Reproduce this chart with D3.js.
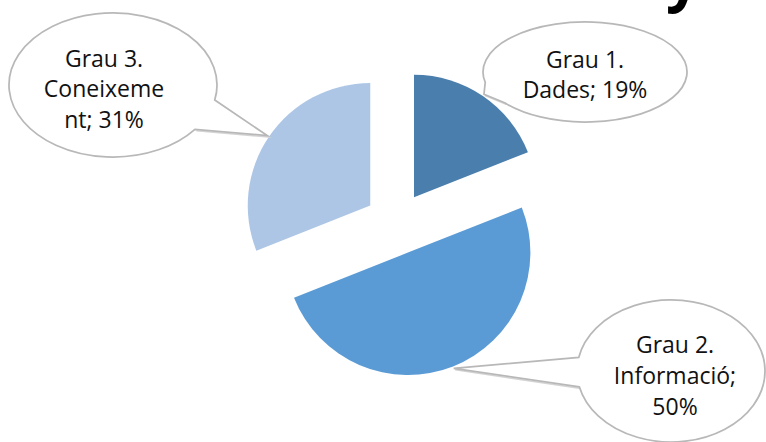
<!DOCTYPE html>
<html>
<head>
<meta charset="utf-8">
<script src="https://cdn.jsdelivr.net/npm/d3@7"></script>
<style>
  html, body { margin: 0; padding: 0; background: #fff; }
  svg { display: block; }
</style>
</head>
<body>
<div id="chart"></div>
<script>
// chart data
const categories = ["Grau 1. Dades", "Grau 2. Informació", "Grau 3. Coneixement"];
const values = [19, 50, 31];
// wrapped label text as shown in the callouts
const labelLines = [
  ["Grau 1.", "Dades; 19%"],
  ["Grau 2.", "Informació;", "50%"],
  ["Grau 3.", "Coneixeme", "nt; 31%"]
];
const colors = ["#4a7ead", "#5b9bd5", "#adc6e6"];

const width = 766;
const height = 442;
const cx = 396.3, cy = 223.3;
const radius = 122.5;
const explode = 31.5;

// callout bubbles (ellipse centre/radii, tail base angles in degrees, text position)
const callouts = [
  { ex: 585, ey: 72, rx: 102, ry: 50, t0: 142, t1: 168, tx: 585, ty: [68, 98] },
  { ex: 671, ey: 371, rx: 94, ry: 71, t0: 167, t1: 191, tx: 675, ty: [353, 384, 415] },
  { ex: 113, ey: 85, rx: 104, ry: 72, t0: 12, t1: 38, tx: 104, ty: [67, 97, 128] }
];

const svg = d3.select("#chart")
  .append("svg")
  .attr("width", width)
  .attr("height", height);

// title fragment: only the descender is inside the picture
svg.append("text")
  .attr("x", 666)
  .attr("y", -1)
  .attr("font-family", "Open Sans")
  .attr("font-weight", "bold")
  .attr("font-size", "60px")
  .attr("fill", "#000")
  .text("y");

const pie = d3.pie().sort(null).value(d => d);
const arcs = pie(values);
const arc = d3.arc().innerRadius(0).outerRadius(radius);
const mid = d => (d.startAngle + d.endAngle) / 2;
const polar = (a, k) => [Math.sin(a) * k, -Math.cos(a) * k];

svg.append("g")
  .selectAll("path")
  .data(arcs)
  .join("path")
  .attr("d", arc)
  .attr("fill", (d, i) => colors[i])
  .attr("transform", d => {
    const [ox, oy] = polar(mid(d), explode);
    return `translate(${cx + ox},${cy + oy})`;
  });

// callout tips sit on the outer arc at the middle of each slice
const tips = arcs.map(d => {
  const [ox, oy] = polar(mid(d), explode);
  const [px, py] = polar(mid(d), radius + 2);
  return [cx + ox + px, cy + oy + py];
});

const ePoint = (c, t) => {
  const a = t * Math.PI / 180;
  return [c.ex + c.rx * Math.cos(a), c.ey + c.ry * Math.sin(a)];
};

const cg = svg.append("g");
callouts.forEach((c, i) => {
  const p0 = ePoint(c, c.t0);
  const p1 = ePoint(c, c.t1);
  const tip = tips[i];

  // faint doubled line on the tail
  cg.append("path")
    .attr("d", `M${p0[0] + 1.5},${p0[1] + 1.5}L${tip[0] + 1.5},${tip[1] + 1.5}L${p1[0] + 1.5},${p1[1] + 1.5}`)
    .attr("fill", "none")
    .attr("stroke", "#d4d4d4")
    .attr("stroke-width", 1.5);

  cg.append("path")
    .attr("d", `M${p0[0]},${p0[1]}L${tip[0]},${tip[1]}L${p1[0]},${p1[1]}` +
      `A${c.rx},${c.ry} 0 1 1 ${p0[0]},${p0[1]}Z`)
    .attr("fill", "#fff")
    .attr("stroke", "#b8b8b8")
    .attr("stroke-width", 1.75)
    .attr("stroke-linejoin", "miter");

  cg.append("text")
    .attr("text-anchor", "middle")
    .attr("font-family", "Open Sans")
    .attr("font-size", "23px")
    .attr("fill", "#111")
    .selectAll("tspan")
    .data(labelLines[i])
    .join("tspan")
    .attr("x", c.tx)
    .attr("y", (d, j) => c.ty[j])
    .text(d => d);
});
</script>
</body>
</html>
